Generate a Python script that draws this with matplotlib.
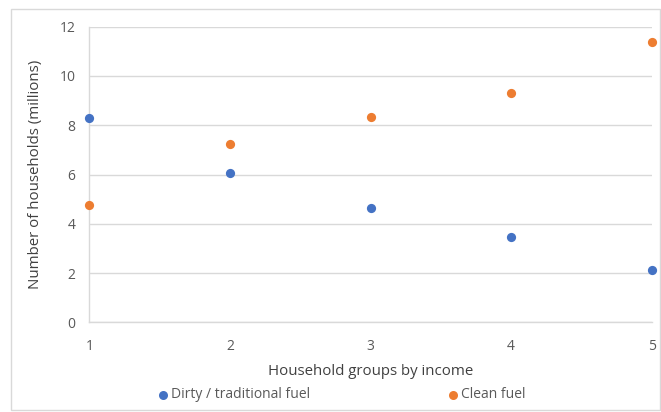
import matplotlib.pyplot as plt
from matplotlib.lines import Line2D
from matplotlib.patches import Rectangle

# data
groups = [1, 2, 3, 4, 5]
dirty_fuel = [8.28, 6.07, 4.63, 3.46, 2.14]
clean_fuel = [4.78, 7.24, 8.32, 9.31, 11.37]

blue = "#4472C4"
orange = "#ED7D31"
grey_text = "#595959"
grid_col = "#d9d9d9"

plt.rcParams['font.family'] = ['Open Sans', 'DejaVu Sans']

W, H = 661, 412
fig = plt.figure(figsize=(W / 100, H / 100), dpi=100)
ax = fig.add_axes([89.3 / W, 1 - 322.3 / H, (651.7 - 89.3) / W, (322.3 - 26.7) / H])

ax.scatter(groups, dirty_fuel, s=44, color=blue, zorder=3, clip_on=False,
           linewidths=0)
ax.scatter(groups, clean_fuel, s=44, color=orange, zorder=3, clip_on=False,
           linewidths=0)

ax.set_xlim(1, 5)
ax.set_ylim(0, 12)
ax.set_xticks(groups)
ax.set_yticks(range(0, 13, 2))
ax.yaxis.grid(True, color=grid_col, linewidth=1)
ax.set_axisbelow(True)
for side in ["top", "right"]:
    ax.spines[side].set_visible(False)
for side in ["left", "bottom"]:
    ax.spines[side].set_color(grid_col)
    ax.spines[side].set_linewidth(1)
ax.tick_params(length=0, colors=grey_text, labelsize=10)
ax.tick_params(axis="x", pad=12)
ax.tick_params(axis="y", pad=10)

ax.set_xlabel("Household groups by income", fontsize=10.8, color="#404040",
              labelpad=7)
ax.set_ylabel("Number of households (millions)", fontsize=10.8, color="#404040",
              labelpad=12)

# legend drawn by hand below the plot
ly = 1 - 395 / H
fig.add_artist(Line2D([163 / W], [ly], marker="o", markersize=6.5, color=blue,
                      linestyle="none", markeredgewidth=0))
fig.text(171 / W, ly, "Dirty / traditional fuel", fontsize=10,
         color=grey_text, va="center", ha="left")
fig.add_artist(Line2D([453 / W], [ly], marker="o", markersize=6.5, color=orange,
                      linestyle="none", markeredgewidth=0))
fig.text(461 / W, ly, "Clean fuel", fontsize=10, color=grey_text,
         va="center", ha="left")

# chart border
fig.add_artist(Rectangle((11 / W, 2 / H), 649 / W, (403 - 2) / H,
                         transform=fig.transFigure, fill=False,
                         edgecolor=grid_col, linewidth=1))

fig.savefig("out.png", dpi=100)
